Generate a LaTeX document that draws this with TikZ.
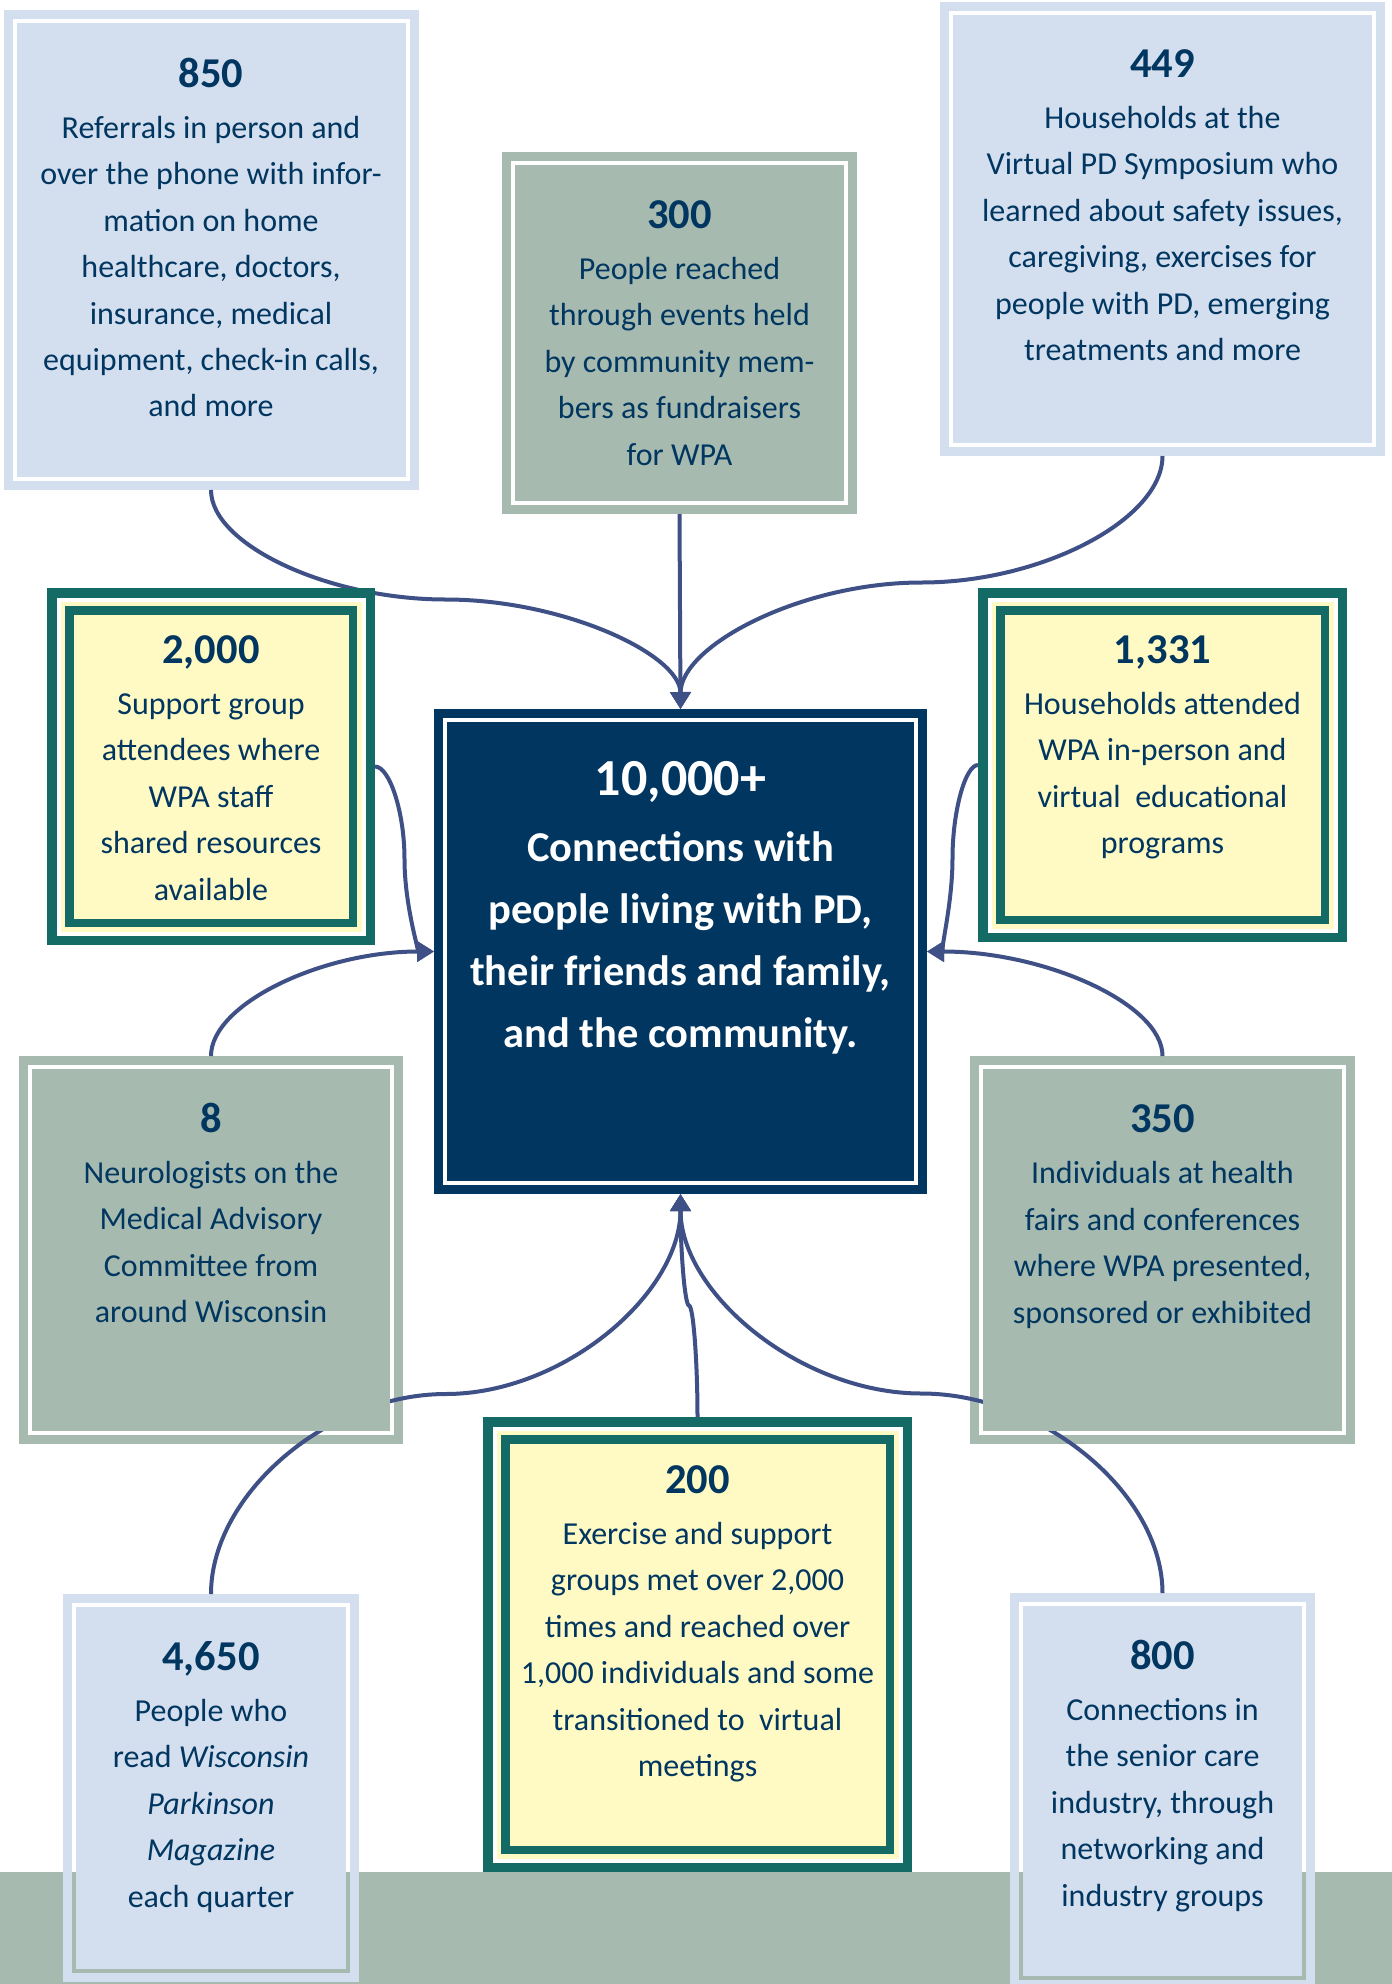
\documentclass[tikz,border=0pt]{standalone}
\usepackage{fontspec}
\setmainfont{Carlito}
\usetikzlibrary{arrows.meta,calc}

\definecolor{paleblue}{HTML}{D3DEEF}
\definecolor{sage}{HTML}{A6BAAF}
\definecolor{navy}{HTML}{00365F}
\definecolor{ink}{HTML}{00365F}
\definecolor{deepteal}{HTML}{146B66}
\definecolor{cream}{HTML}{FFF9C4}
\definecolor{linkblue}{HTML}{3E5085}

\pgfdeclarelayer{bands}
\pgfdeclarelayer{links}
\pgfsetlayers{bands,links,main}

\newcommand\numfont{\fontsize{42.5}{50}\selectfont\bfseries}
\newcommand\descfont{\fontsize{32}{46.4}\selectfont}
\newcommand\hubnumfont{\fontsize{52}{60}\selectfont\bfseries}
\newcommand\hubfont{\fontsize{42.5}{62}\selectfont\bfseries}

\tikzset{
  numtxt/.style={font=\numfont, text=ink, inner sep=0pt, anchor=base},
  desctxt/.style={font=\descfont, text=ink, inner sep=0pt, anchor=north, align=center},
  conn/.style={draw=linkblue, line width=4pt, -{Triangle[length=17pt,width=20pt]}},
}

% box with an outer rim, a thin open gap and a filled core
% #1 name, #2 centre x, #3 centre y, #4 width, #5 height, #6 colour
\newcommand\rimbox[6]{%
  \begin{pgfonlayer}{bands}
    \node[draw=#6, line width=9pt, outer sep=4.5pt, inner sep=0pt,
          minimum width=#4-9, minimum height=#5-9] (#1) at (#2,#3) {};
  \end{pgfonlayer}
  \fill[#6] ([shift={(13,13)}]#1.north west) rectangle ([shift={(-13,-13)}]#1.south east);
}

% cream box with a double teal frame
% #1 name, #2 centre x, #3 centre y, #4 width, #5 height
\newcommand\tealbox[5]{%
  \node[draw=deepteal, fill=white, line width=9.5pt, outer sep=4.75pt, inner sep=0pt,
        minimum width=#4-9.5, minimum height=#5-9.5] (#1) at (#2,#3) {};
  \fill[cream] ([shift={(13.5,13.5)}]#1.north west) rectangle ([shift={(-13.5,-13.5)}]#1.south east);
  \draw[deepteal, line width=8.5pt] ([shift={(22.25,22.25)}]#1.north west) rectangle ([shift={(-22.25,-22.25)}]#1.south east);
}

% figure and its description
% #1 name, #2 x, #3 baseline of the figure, #4 figure, #5 description
\newcommand\stat[5]{%
  \node[numtxt] (#1n) at (#2,#3) {#4};
  \node[desctxt] (#1t) at (#2,#3+18.8) {\strut #5};
}

% vertical - horizontal - vertical curve
\newcommand\vlink[2]{%
  \begin{pgfonlayer}{links}
  \path ($(#1)!0.25!(#2)$) coordinate (qa) ($(#1)!0.5!(#2)$) coordinate (qm) ($(#1)!0.75!(#2)$) coordinate (qb);
  \draw[conn] (#1) .. controls (#1 |- qa) and (qa |- qm) .. (qm) .. controls (qb |- qm) and (#2 |- qb) .. (#2);
  \end{pgfonlayer}
}
% horizontal - vertical - horizontal curve
\newcommand\hlink[2]{%
  \begin{pgfonlayer}{links}
  \path ($(#1)!0.25!(#2)$) coordinate (qa) ($(#1)!0.5!(#2)$) coordinate (qm) ($(#1)!0.75!(#2)$) coordinate (qb);
  \draw[conn] (#1) .. controls (qa |- #1) and (qm |- qa) .. (qm) .. controls (qm |- qb) and (qb |- #2) .. (#2);
  \end{pgfonlayer}
}
% vertical start, horizontal finish
\newcommand\elink[2]{%
  \begin{pgfonlayer}{links}
  \path ($(#1)!0.5!(#2)$) coordinate (qm);
  \draw[conn] (#1) .. controls (#1 |- qm) and (qm |- #2) .. (#2);
  \end{pgfonlayer}
}

\begin{document}
\begin{tikzpicture}[x=1pt, y=-1pt]
\useasboundingbox (0,0) rectangle (1392,1984);
\begin{pgfonlayer}{bands}
  \fill[white] (0,0) rectangle (1392,1984);
  \fill[sage] (0,1872) rectangle (1392,1984);
\end{pgfonlayer}

% boxes
\rimbox{b850}{211}{250}{415}{480}{paleblue}
\rimbox{b300}{679.5}{333}{355}{362}{sage}
\rimbox{b449}{1162.5}{229}{445}{454}{paleblue}
\tealbox{b2000}{211}{766.5}{328}{357}
\tealbox{b1331}{1162.5}{765}{369}{354}
\rimbox{bc}{680.5}{951.5}{493}{485}{navy}
\rimbox{b8}{211}{1250}{384}{388}{sage}
\rimbox{b350}{1162.5}{1250}{385}{388}{sage}
\tealbox{b200}{697.5}{1644.5}{429}{455}
\rimbox{b4650}{211}{1788}{296}{388}{paleblue}
\rimbox{b800}{1162.5}{1791}{305}{396}{paleblue}

% connectors
\vlink{b850.south}{bc.north}
\begin{pgfonlayer}{links}
  \draw[conn] (b300.south) -- (bc.north);
\end{pgfonlayer}
\vlink{b449.south}{bc.north}
\hlink{b2000.east}{bc.west}
\elink{b8.north}{bc.west}
\hlink{b1331.west}{bc.east}
\elink{b350.north}{bc.east}
\vlink{b4650.north}{bc.south}
\vlink{b800.north}{bc.south}
\vlink{b200.north}{bc.south}

% texts
\stat{s850}{211}{87}{850}{Referrals in person and\\over the phone with infor-\\mation on home\\healthcare, doctors,\\insurance, medical\\equipment, check-in calls,\\and more}
\stat{s300}{679.5}{228}{300}{People reached\\through events held\\by community mem-\\bers as fundraisers\\for WPA}
\stat{s449}{1162.5}{77}{449}{Households at the\\Virtual PD Symposium who\\learned about safety issues,\\caregiving, exercises for\\people with PD, emerging\\treatments and more}
\stat{s2000}{211}{663}{2,000}{Support group\\attendees where\\WPA staff\\shared resources\\available}
\stat{s1331}{1162.5}{663}{1,331}{Households attended\\WPA in-person and\\virtual\ \ educational\\programs}
\stat{s8}{211}{1132}{8}{Neurologists on the\\Medical Advisory\\Committee from\\around Wisconsin}
\stat{s350}{1162.5}{1132.5}{350}{Individuals at health\\fairs and conferences\\where WPA presented,\\sponsored or exhibited}
\stat{s200}{697.5}{1493}{200}{Exercise and support\\groups met over 2,000\\times and reached over\\1,000 individuals and some\\transitioned to\ \ virtual\\meetings}
\stat{s4650}{211}{1670}{4,650}{People who\\read \textit{Wisconsin}\\\textit{Parkinson}\\\textit{Magazine}\\each quarter}
\stat{s800}{1162.5}{1669}{800}{Connections in\\the senior care\\industry, through\\networking and\\industry groups}

\node[font=\hubnumfont, text=white, inner sep=0pt, anchor=base] (hubn) at (680.5,795) {10,000+};
\node[font=\hubfont, text=white, inner sep=0pt, anchor=north, align=center] (hubt) at (680.5,818.1)
  {\strut Connections with\\people living with PD,\\their friends and family,\\and the community.};
\end{tikzpicture}
\end{document}
